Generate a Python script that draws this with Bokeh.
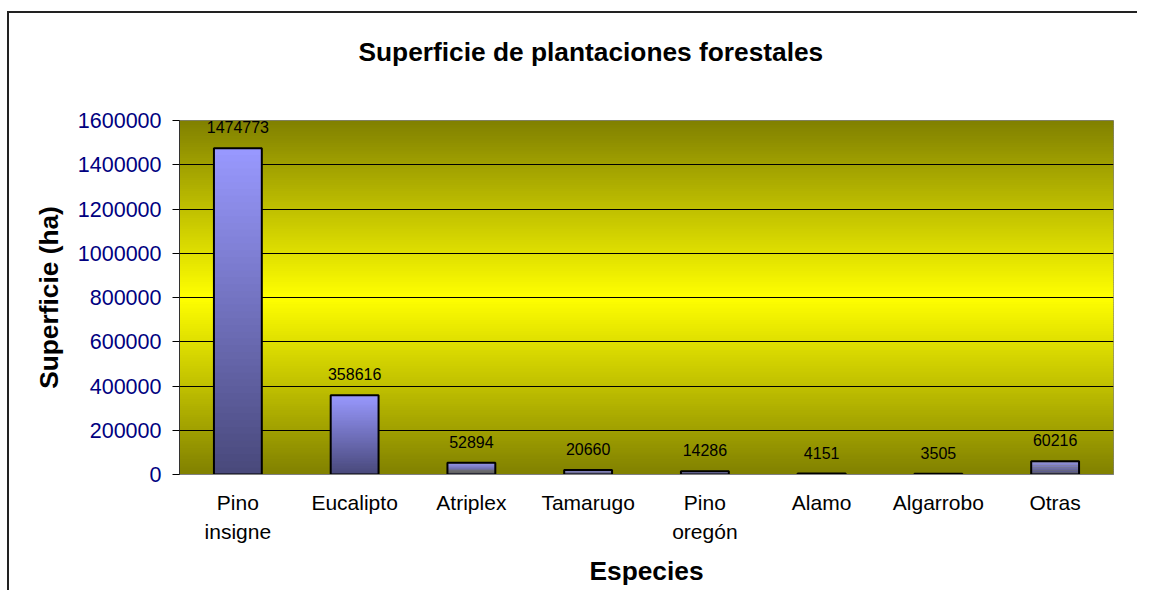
from bokeh.plotting import figure
from bokeh.models import Range1d, FixedTicker, NumeralTickFormatter, ColumnDataSource, Title
from bokeh.core.properties import value
from bokeh.embed import file_html
from bokeh.resources import INLINE

categories = ["Pino\ninsigne", "Eucalipto", "Atriplex", "Tamarugo", "Pino\noregón", "Alamo", "Algarrobo", "Otras"]
values = [1474773, 358616, 52894, 20660, 14286, 4151, 3505, 60216]
y_ticks = [0, 200000, 400000, 600000, 800000, 1000000, 1200000, 1400000, 1600000]

FONT = "Liberation Sans"
Y_MAX = y_ticks[-1]

p = figure(width=1130, height=579, x_range=Range1d(0, len(categories)), y_range=Range1d(0, Y_MAX),
           output_backend="svg", toolbar_location=None,
           min_border_left=170, min_border_right=26, min_border_top=107, min_border_bottom=118)
p.styles = {"border-left": "2px solid #222222", "border-top": "2px solid #222222",
            "margin-left": "7px", "margin-top": "11px"}

# spacer between title and plot area
p.add_layout(Title(text=" ", text_font_size="1px", standoff=46), "above")

# title
p.title.text = "Superficie de plantaciones forestales"
p.title.text_font = FONT
p.title.text_font_size = "26.3px"
p.title.text_font_style = "bold"
p.title.text_color = "black"
p.title.align = "left"
p.title.offset = 179
p.title.standoff = 10

# background gradient (olive - yellow - olive)
N = 160
h = Y_MAX / N
bb, tt, cc = [], [], []
for i in range(N):
    b = i * h
    mid = b + h / 2
    t = abs(mid - Y_MAX / 2) / (Y_MAX / 2)
    c = int(round(255 - t * 127))
    bb.append(b)
    tt.append(min(Y_MAX, b + h * 1.6))
    cc.append("#%02x%02x00" % (c, c))
p.quad(left=0, right=len(categories), bottom=bb, top=tt, fill_color=cc, line_color=None, level="image")

# bars with vertical gradient
M = 48
bw = 0.41
xs, bots, tops, cols = [], [], [], []
top_c = (153, 153, 255)
bot_c = (72, 72, 122)
for i, v in enumerate(values):
    x = i + 0.5
    for j in range(M):
        b = v * j / M
        t = min(v, v * (j + 1.6) / M)
        f = (j + 0.5) / M
        col = tuple(int(round(bot_c[k] + (top_c[k] - bot_c[k]) * f)) for k in range(3))
        xs.append(x); bots.append(b); tops.append(t); cols.append("#%02x%02x%02x" % col)
p.vbar(x=xs, bottom=bots, top=tops, width=bw, fill_color=cols, line_color=None)
bar_x = [i + 0.5 for i in range(len(values))]
p.vbar(x=bar_x, bottom=0, top=values, width=bw, fill_color=None, line_color="black", line_width=2)

# data labels
src = ColumnDataSource(dict(x=bar_x, y=values, t=[str(v) for v in values]))
p.text(x="x", y="y", text="t", source=src, text_align="center", text_baseline="alphabetic",
       y_offset=-21, text_font=value(FONT), text_font_size="16px", text_color="black")

# grid
p.xgrid.visible = False
p.ygrid.ticker = FixedTicker(ticks=y_ticks)
p.ygrid.grid_line_color = "black"
p.ygrid.grid_line_width = 1
p.ygrid.level = "underlay"

p.outline_line_color = "#808080"
p.outline_line_width = 1
p.background_fill_color = "#808000"

# y axis
ya = p.yaxis[0]
ya.ticker = FixedTicker(ticks=y_ticks)
ya.formatter = NumeralTickFormatter(format="0")
ya.major_label_text_font = FONT
ya.major_label_text_font_size = "21.5px"
ya.major_label_text_color = "#000080"
ya.major_tick_out = 7
ya.major_tick_in = 0
ya.minor_tick_out = 0
ya.minor_tick_in = 0
ya.major_tick_line_color = "black"
ya.axis_line_color = "#333333"
ya.major_label_standoff = 11
ya.axis_label = "Superficie (ha)"
ya.axis_label_text_font = FONT
ya.axis_label_text_font_size = "26.3px"
ya.axis_label_text_font_style = "bold"
ya.axis_label_text_color = "black"
ya.axis_label_standoff = 11

# x axis
xa = p.xaxis[0]
xa.ticker = FixedTicker(ticks=bar_x)
xa.major_label_overrides = {x: c for x, c in zip(bar_x, categories)}
xa.major_label_text_font = FONT
xa.major_label_text_font_size = "21px"
xa.major_label_text_color = "black"
xa.major_label_text_line_height = 1.3
xa.major_tick_out = 0
xa.major_tick_in = 0
xa.minor_tick_out = 0
xa.minor_tick_in = 0
xa.axis_line_color = "#808080"
xa.major_label_standoff = 16
xa.axis_label = "Especies"
xa.axis_label_text_font = FONT
xa.axis_label_text_font_size = "26.3px"
xa.axis_label_text_font_style = "bold"
xa.axis_label_text_color = "black"
xa.axis_label_standoff = 10

open("out.html", "w").write(file_html(p, INLINE))
